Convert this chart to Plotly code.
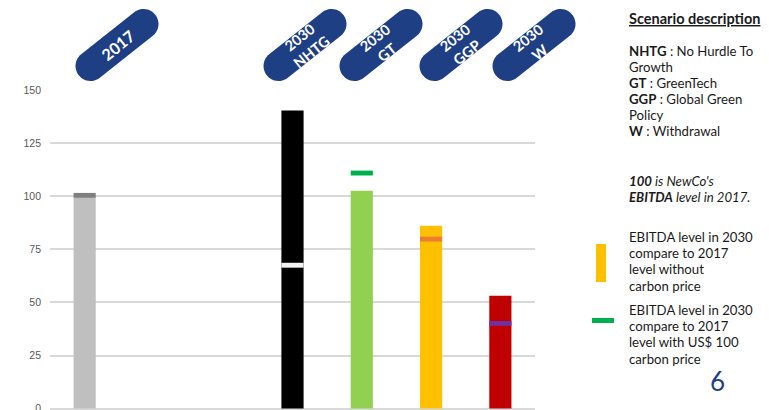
import numpy as np
import plotly.graph_objects as go

# ---- data ----
slots = [0, 3, 4, 5, 6]                      # category slot positions (2 empty slots after 2017)
scenarios = ["2017", "2030<br>NHTG", "2030<br>GT", "2030<br>GGP", "2030<br>W"]
ebitda_no_carbon = [99.4, 140.3, 102.6, 86.1, 53.1]
ebitda_carbon = [100.4, 67.5, 110.9, 79.8, 40.1]
bar_colors = ["#BFBFBF", "#000000", "#92D050", "#FFC000", "#C00000"]
marker_colors = ["#7F7F7F", "#F2F2F2", "#00B050", "#ED7D31", "#7030A0"]
y_ticks = [0, 25, 50, 75, 100, 125, 150]

# page body has an 8px default margin -> figure drawn at offset O
O = 8
W, H = 769 - O, 410 - O
PL, PR, PT = 50, 535, 90          # plot area in screen pixels
ML, MT, MB = PL - O, PT - O, 0
MR = W - (PR - O)
PW, PH = W - ML - MR, H - MT - MB


def px(x):
    return (x - O - ML) / PW


def py(y):
    return (H - MB - (y - O)) / PH


fig = go.Figure()
bw = 0.32
fig.add_trace(go.Bar(x=slots, y=ebitda_no_carbon, marker_color=bar_colors,
                     width=bw, marker_line_width=0, hoverinfo="skip", showlegend=False))
mk_h = 2.3
fig.add_trace(go.Bar(x=slots, y=[mk_h] * len(slots),
                     base=[v - mk_h / 2 for v in ebitda_carbon],
                     marker_color=marker_colors, width=bw, marker_line_width=0,
                     hoverinfo="skip", showlegend=False))

# ---- pills ----
pill_centers = [(117, 45), (305, 45), (381, 45), (461, 45), (534, 45)]
theta = np.deg2rad(38.4)
a, r = 33.8, 15.0
ux, uy = np.cos(theta), np.sin(theta)
pts = []
for ang in np.linspace(theta - np.pi / 2, theta + np.pi / 2, 24):
    pts.append((a * ux + r * np.cos(ang), a * uy + r * np.sin(ang)))
for ang in np.linspace(theta + np.pi / 2, theta + 3 * np.pi / 2, 24):
    pts.append((-a * ux + r * np.cos(ang), -a * uy + r * np.sin(ang)))
path = "M " + " L ".join(f"{x:.2f},{y:.2f}" for x, y in pts) + " Z"

for (cx, cy), label in zip(pill_centers, scenarios):
    fig.add_shape(type="path", xref="paper", yref="paper", xsizemode="pixel", ysizemode="pixel",
                  xanchor=px(cx), yanchor=py(cy), path=path,
                  fillcolor="#1F3F84", line=dict(width=0), layer="above")
    fig.add_annotation(x=px(cx), y=py(cy), xref="paper", yref="paper", text=f"<b>{label}</b>",
                       showarrow=False, textangle=-39,
                       font=dict(family="Lato", size=16 if "<br>" not in label else 14.5, color="white"),
                       xanchor="center", yanchor="middle")

# ---- right text ----
TX = 627
tcol = "#1A1A1A"
f = dict(family="Lato", size=13.2, color=tcol)


def txt(y, s, x=TX, font=f):
    fig.add_annotation(x=px(x), y=py(y), xref="paper", yref="paper", text=s, showarrow=False,
                       xanchor="left", yanchor="middle", align="left", font=font)


txt(19, "<u><b>Scenario description</b></u>", font=dict(family="Lato", size=14.5, color=tcol))
lines = ["<b>NHTG</b> : No Hurdle To", "Growth", "<b>GT</b> : GreenTech",
         "<b>GGP</b> : Global Green", "Policy", "<b>W</b> : Withdrawal"]
for i, s in enumerate(lines):
    txt(51 + 16 * i, s)
txt(181, "<i><b>100</b> is NewCo's</i>")
txt(197, "<i><b>EBITDA</b> level in 2017.</i>")
for i, s in enumerate(["EBITDA level in 2030", "compare to 2017", "level without", "carbon price"]):
    txt(237 + 16.2 * i, s)
for i, s in enumerate(["EBITDA level in 2030", "compare to 2017", "level with US$ 100", "carbon price"]):
    txt(310 + 16.2 * i, s)
txt(381, "6", x=708, font=dict(family="Lato", size=26, color="#1F3F84"))

# legend swatches
fig.add_shape(type="rect", xref="paper", yref="paper", x0=px(596), x1=px(606), y0=py(282), y1=py(244),
              fillcolor="#FFC000", line=dict(width=0))
fig.add_shape(type="rect", xref="paper", yref="paper", x0=px(592), x1=px(614), y0=py(323), y1=py(318),
              fillcolor="#00B050", line=dict(width=0))

fig.update_layout(
    width=W, height=H, margin=dict(l=ML, r=MR, t=MT, b=MB, autoexpand=False),
    paper_bgcolor="white", plot_bgcolor="white", barmode="overlay",
    xaxis=dict(range=[-0.5, 6.5], showticklabels=False, showgrid=False, zeroline=False,
               showline=False, fixedrange=True),
    yaxis=dict(range=[-0.66, 150], tickvals=y_ticks, showgrid=True, gridcolor="#D9D9D9",
               gridwidth=1.5, zeroline=True, zerolinecolor="#D9D9D9", zerolinewidth=1.5,
               tickfont=dict(family="Liberation Sans", size=10.5, color="#595959"),
               ticks="", ticklen=0, ticklabelstandoff=8, ticklabeloverflow="allow",
               fixedrange=True),
    font=dict(family="Lato"),
)

fig.write_html("out.html")
